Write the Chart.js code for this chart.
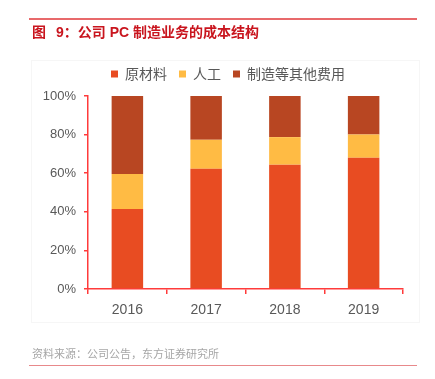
<!DOCTYPE html>
<html>
<head>
<meta charset="utf-8">
<script src="https://cdn.jsdelivr.net/npm/chart.js@4"></script>
<style>
  html, body { margin:0; padding:0; background:#fff; }
  #wrap { position:relative; width:435px; height:379px; overflow:hidden; }
  #c { position:absolute; left:0; top:0; }
  .ov { position:absolute; }
  #topline { left:29px; top:18px; width:388px; height:1.5px; background:#E8696B; }
  #title { left:32px; top:21px; font:bold 14px 'Liberation Sans','Noto Sans CJK SC',sans-serif; color:#C9151E; white-space:pre; }
  #title .g { display:inline-block; width:10px; }
  #frame { left:31px; top:60px; width:389px; height:263px; border:1px solid #f6f6f6; box-sizing:border-box; }
  #source { left:32px; top:345px; font:11px 'Noto Sans CJK SC','Liberation Sans',sans-serif; color:#A6A6A6; white-space:nowrap; }
  #botline { left:29px; top:364.5px; width:388px; height:1.5px; background:#E8898B; }
</style>
</head>
<body>
<div id="wrap">
  <div class="ov" id="frame"></div>
  <canvas id="c" width="435" height="379"></canvas>
  <div class="ov" id="topline"></div>
  <div class="ov" id="title">图<span class="g"></span>9：公司 PC 制造业务的成本结构</div>
  <div class="ov" id="source">资料来源：公司公告，东方证券研究所</div>
  <div class="ov" id="botline"></div>
</div>
<script>
const categories = ['2016', '2017', '2018', '2019'];
const seriesNames = ['原材料', '人工', '制造等其他费用'];
const rawMaterial = [41.5, 62.3, 64.4, 68.0];
const labor = [18.1, 15.0, 14.3, 12.0];
const otherCost = [40.4, 22.7, 21.3, 20.0];
const yTickValues = [0, 20, 40, 60, 80, 100];

const colors = ['#E84C22', '#FFBB44', '#B84622'];
const axisRed = '#FF3B3B';
const fontFam = "'Liberation Sans','Noto Sans CJK SC',sans-serif";
const cjkFam = "'Noto Sans CJK SC','Liberation Sans',sans-serif";

new Chart(document.getElementById('c'), {
  type: 'bar',
  data: {
    labels: categories,
    datasets: [
      { label: seriesNames[0], data: rawMaterial, backgroundColor: colors[0] },
      { label: seriesNames[1], data: labor, backgroundColor: colors[1] },
      { label: seriesNames[2], data: otherCost, backgroundColor: colors[2] }
    ]
  },
  options: {
    responsive: false,
    devicePixelRatio: 1,
    animation: false,
    layout: { padding: { left: 21, right: 0, top: 55, bottom: 60 } },
    datasets: { bar: { barPercentage: 0.4, categoryPercentage: 1.0, borderWidth: 0 } },
    plugins: {
      legend: {
        position: 'top',
        labels: {
          boxWidth: 7, boxHeight: 7, padding: 12,
          color: '#595959',
          font: { family: cjkFam, size: 14 }
        }
      },
      tooltip: { enabled: false }
    },
    scales: {
      x: {
        stacked: true,
        offset: true,
        grid: { display: true, offset: true, drawOnChartArea: false, drawTicks: true, tickLength: 5, color: axisRed, lineWidth: 1.5 },
        border: { display: true, color: axisRed, width: 1.5 },
        ticks: { color: '#595959', padding: 8, font: { family: fontFam, size: 14 } },
        afterFit: s => { s.height = 30; }
      },
      xTop: {
        type: 'category',
        position: 'top',
        display: true,
        grid: { display: false },
        border: { display: false },
        ticks: { display: false },
        afterFit: s => { s.height = 5; }
      },
      y: {
        stacked: true,
        min: 0, max: 100,
        afterBuildTicks: s => { s.ticks = yTickValues.map(v => ({ value: v })); },
        grid: { display: true, drawOnChartArea: false, drawTicks: true, tickLength: 4, color: axisRed, lineWidth: 1.5 },
        border: { display: true, color: axisRed, width: 1.5 },
        ticks: { color: '#595959', padding: 8, font: { family: fontFam, size: 13 }, callback: v => v + '%' },
        afterFit: s => { s.width = 67; }
      },
      yR: {
        position: 'right',
        display: true,
        grid: { display: false },
        border: { display: false },
        ticks: { display: false },
        afterFit: s => { s.width = 32; }
      }
    }
  }
});
</script>
</body>
</html>
